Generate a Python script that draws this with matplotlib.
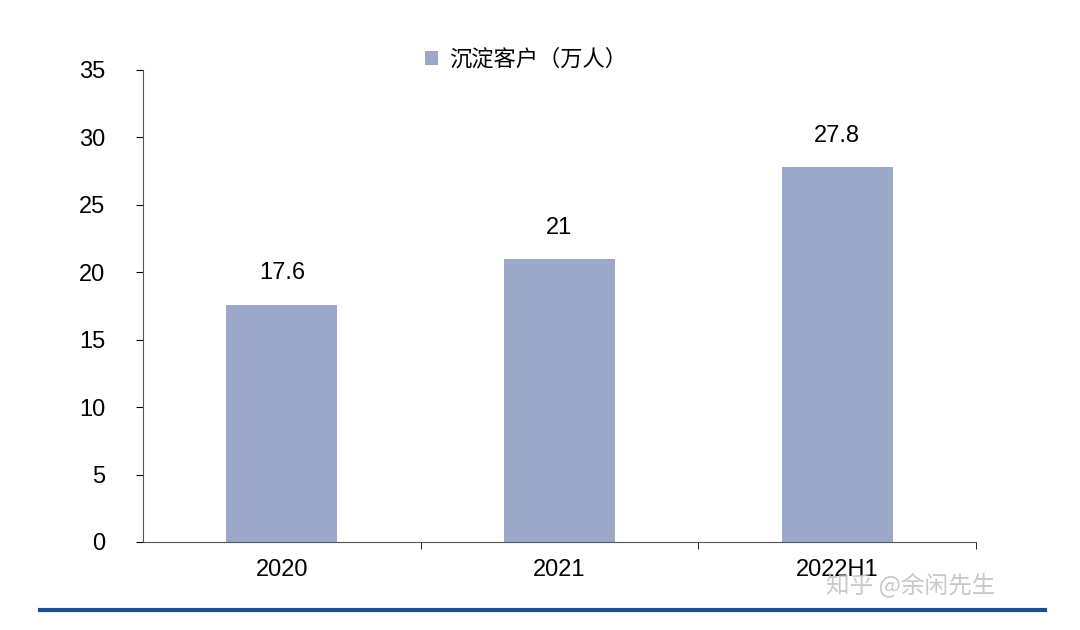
import matplotlib
matplotlib.use("Agg")
import matplotlib.pyplot as plt
import numpy as np

plt.rcParams['font.family'] = ['Liberation Sans', 'Noto Sans CJK SC', 'DejaVu Sans']

categories = ['2020', '2021', '2022H1']
customers = [17.6, 21, 27.8]
value_labels = ['17.6', '21', '27.8']

fig = plt.figure(figsize=(10.8, 6.3), dpi=100)
ax = fig.add_axes([0.1324, 0.1397, 0.7713, 0.7492])

x = np.arange(len(categories))
ax.bar(x, customers, width=0.4, color='#9BA8C9', label='沉淀客户（万人）', zorder=2)
for xi, v, lab in zip(x, customers, value_labels):
    ax.text(xi, v + 1.5, lab, ha='center', va='bottom', fontsize=17)

ax.set_xlim(-0.5, 2.5)
ax.set_ylim(0, 35)
ax.set_yticks(range(0, 36, 5))
ax.set_xticks(x)
ax.set_xticklabels(categories, fontsize=17)
ax.tick_params(axis='x', length=0, pad=12)
ax.set_xticks([0.5, 1.5, 2.5], minor=True)
ax.tick_params(axis='x', which='minor', length=5, direction='out')
ax.tick_params(axis='y', labelsize=17, length=5, direction='out', pad=22)
for lab in ax.get_yticklabels():
    lab.set_horizontalalignment('right')
for s in ['top', 'right']:
    ax.spines[s].set_visible(False)
for s in ['left', 'bottom']:
    ax.spines[s].set_color('#555555')

leg = ax.legend(loc='upper center', bbox_to_anchor=(0.46, 1.09), frameon=False,
                handlelength=0.6, handleheight=0.6, handletextpad=0.5,
                prop={'family': ['Noto Sans CJK SC'], 'size': 16})

fig.add_artist(plt.Line2D([0.037, 0.968], [0.032, 0.032], color='#1F4E8C', lw=3))
fig.text(0.765, 0.06, '知乎 @余闲先生', fontsize=17, color='#BBBBBB', alpha=0.8,
         family=['Noto Sans CJK SC'])

fig.savefig('out.png', dpi=100)
